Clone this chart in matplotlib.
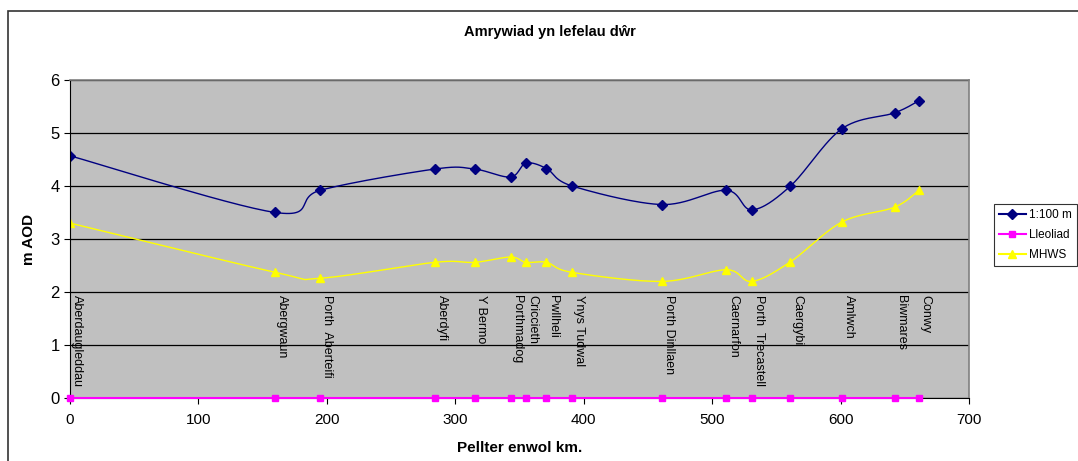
# Amrywiad yn lefelau dŵr — ail-greu siart Excel gyda matplotlib
import numpy as np
import matplotlib
matplotlib.use("Agg")
import matplotlib.pyplot as plt
from matplotlib.patches import Rectangle

# Pellter enwol (km) ar hyd yr arfordir
pellter = [0, 160, 195, 284, 315, 343, 355, 371, 391, 461, 511, 531, 561, 601, 642, 661]
lleoedd = ["Aberdaugleddau", "Abergwaun", "Porth  Aberteifi", "Aberdyfi", "Y Bermo",
           "Porthmadog", "Criccieth", "Pwllheli", "Ynys Tudwal", "Porth Dinllaen",
           "Caernarfon", "Porth  Trecastell", "Caergybi", "Amlwch", "Biwmares", "Conwy"]

# lefelau (m AOD)
lefel_100 = [4.57, 3.50, 3.92, 4.32, 4.32, 4.17, 4.43, 4.33, 4.00, 3.65,
             3.92, 3.55, 4.00, 5.08, 5.38, 5.61]
mhws = [3.30, 2.37, 2.26, 2.56, 2.56, 2.66, 2.56, 2.56, 2.37, 2.20,
        2.42, 2.20, 2.57, 3.32, 3.60, 3.92]
lleoliad = [0] * len(pellter)


def llyfnu(x, y, n=30):
    # spline Catmull-Rom, fel llinell "smooth" Excel
    p = np.column_stack([x, y]).astype(float)
    p = np.vstack([p[0], p, p[-1]])
    out = []
    t = np.linspace(0, 1, n)[:, None]
    for i in range(1, len(p) - 2):
        p0, p1, p2, p3 = p[i - 1], p[i], p[i + 1], p[i + 2]
        c1 = p1 + (p2 - p0) / 6
        c2 = p2 - (p3 - p1) / 6
        seg = ((1 - t) ** 3 * p1 + 3 * (1 - t) ** 2 * t * c1
               + 3 * (1 - t) * t ** 2 * c2 + t ** 3 * p2)
        out.append(seg if i == 1 else seg[1:])
    out = np.vstack(out)
    return out[:, 0], out[:, 1]


plt.rcParams["font.family"] = ["Liberation Sans", "DejaVu Sans"]

fig = plt.figure(figsize=(10.78, 4.61), dpi=100)
fig.patch.set_facecolor("white")
# ffrâm y siart (wedi'i thorri ar y dde a'r gwaelod fel yn y gwreiddiol)
fig.patches.append(Rectangle((8 / 1078, -0.1), 1.2, 1 - 11 / 461 + 0.1,
                             transform=fig.transFigure, fill=False,
                             edgecolor="#333333", linewidth=1.2))

ax = fig.add_axes([70 / 1078, 1 - 398 / 461, 899 / 1078, 318 / 461])
ax.set_facecolor("#C0C0C0")
ax.set_xlim(0, 700)
ax.set_ylim(0, 6)
ax.set_yticks(range(0, 7))
ax.set_xticks(range(0, 701, 100))
ax.grid(axis="y", color="black", linewidth=0.9)
ax.set_axisbelow(True)

for s in ["top", "right"]:
    ax.spines[s].set_color("#808080")
    ax.spines[s].set_linewidth(1.2)
ax.spines["left"].set_color("black")
ax.spines["bottom"].set_color("black")
ax.tick_params(axis="y", labelsize=12, length=4, color="black")
ax.tick_params(axis="x", labelsize=11, length=4, color="black", pad=7)

xs, ys = llyfnu(pellter, lefel_100)
ax.plot(xs, ys, color="#000080", linewidth=1)
ax.plot(pellter, lefel_100, linestyle="none", marker="D", markersize=5,
        color="#000080")
ax.plot([], [], color="#000080", marker="D", markersize=5, label="1:100 m")

ax.plot(pellter, lleoliad, color="#FF00FF", linewidth=1.5, marker="s",
        markersize=5, clip_on=False, zorder=5, label="Lleoliad")

xs, ys = llyfnu(pellter, mhws)
ax.plot(xs, ys, color="#FFFF00", linewidth=1)
ax.plot(pellter, mhws, linestyle="none", marker="^", markersize=6,
        color="#FFFF00")
ax.plot([], [], color="#FFFF00", marker="^", markersize=6, label="MHWS")

# enwau'r lleoedd, wedi'u troi
for x, enw in zip(pellter, lleoedd):
    ax.annotate(enw, (x, 1.95), xytext=(5, 0), textcoords="offset points",
                rotation=270, ha="center", va="top", fontsize=9)

ax.set_ylabel("m AOD", fontsize=11, fontweight="bold", labelpad=10)
ax.set_xlabel("Pellter enwol km.", fontsize=11, fontweight="bold", labelpad=10)
fig.text(550 / 1078, 1 - 32 / 461, "Amrywiad yn lefelau dŵr", ha="center",
         va="center", fontsize=10.5, fontweight="bold")

h, lb = ax.get_legend_handles_labels()
leg = fig.legend(h, lb, loc="upper left", bbox_to_anchor=(994 / 1078, 1 - 204 / 461),
                 fontsize=8.5, frameon=True, fancybox=False, edgecolor="black",
                 handlelength=2.3, handletextpad=0.3, borderpad=0.4,
                 labelspacing=0.7, borderaxespad=0)
leg.get_frame().set_linewidth(0.8)

fig.savefig("out.png", dpi=100)
